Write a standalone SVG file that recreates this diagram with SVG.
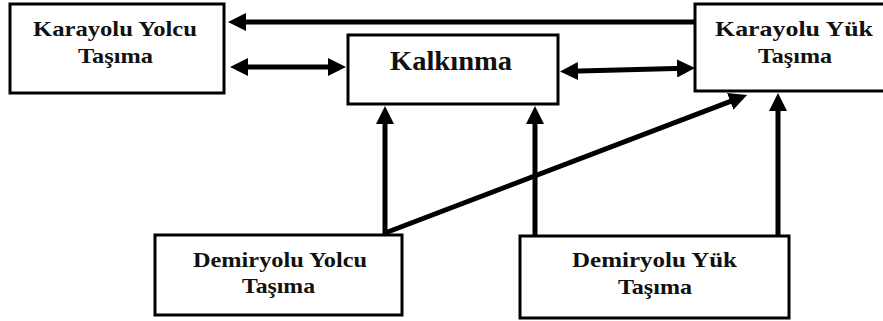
<svg xmlns="http://www.w3.org/2000/svg" width="883" height="321" viewBox="0 0 883 321">
<style>
.box{fill:#fff;stroke:#000;stroke-width:3}
.lbl{font-family:"Liberation Serif","Times New Roman",serif;font-weight:bold;font-size:22px;fill:#111}
.big{font-size:28px}
.c{fill:none;stroke:#000;stroke-width:5}
</style>
<defs>
<marker id="ah" markerUnits="userSpaceOnUse" markerWidth="18" markerHeight="18" refX="8" refY="9" orient="auto-start-reverse" viewBox="0 0 18 18">
<path d="M0,0 L18,9 L0,18 z" fill="#000"/>
</marker>
</defs>
<g id="connectors">
<line class="c" x1="696" y1="22" x2="238" y2="22" marker-end="url(#ah)"/>
<line class="c" x1="240" y1="67" x2="336" y2="67" marker-start="url(#ah)" marker-end="url(#ah)"/>
<line class="c" x1="570" y1="71.3" x2="685" y2="68.3" marker-start="url(#ah)" marker-end="url(#ah)"/>
<line class="c" x1="385" y1="235" x2="385" y2="116" marker-end="url(#ah)"/>
<line class="c" x1="535" y1="236" x2="535" y2="116" marker-end="url(#ah)"/>
<line class="c" x1="778" y1="236" x2="778" y2="103" marker-end="url(#ah)"/>
<line class="c" x1="385" y1="233" x2="737.7" y2="98.6" marker-end="url(#ah)"/>
</g>
<g id="karayolu-yolcu">
<rect class="box" x="10" y="4" width="214" height="89"/>
<text class="lbl" x="33" y="36" textLength="164" lengthAdjust="spacingAndGlyphs">Karayolu Yolcu</text>
<text class="lbl" x="78" y="63" textLength="75" lengthAdjust="spacingAndGlyphs">Taşıma</text>
</g>
<g id="kalkinma">
<rect class="box" x="348" y="35" width="210" height="69"/>
<text class="lbl big" x="390" y="70" textLength="122" lengthAdjust="spacingAndGlyphs">Kalkınma</text>
</g>
<g id="karayolu-yuk">
<rect class="box" x="695" y="4" width="200" height="87"/>
<text class="lbl" x="715" y="36" textLength="158" lengthAdjust="spacingAndGlyphs">Karayolu Yük</text>
<text class="lbl" x="758" y="63" textLength="74" lengthAdjust="spacingAndGlyphs">Taşıma</text>
</g>
<g id="demiryolu-yolcu">
<rect class="box" x="155" y="235" width="247" height="80"/>
<text class="lbl" x="193" y="267" textLength="174" lengthAdjust="spacingAndGlyphs">Demiryolu Yolcu</text>
<text class="lbl" x="242" y="293" textLength="73" lengthAdjust="spacingAndGlyphs">Taşıma</text>
</g>
<g id="demiryolu-yuk">
<rect class="box" x="520" y="236" width="269" height="82"/>
<text class="lbl" x="572" y="267" textLength="165" lengthAdjust="spacingAndGlyphs">Demiryolu Yük</text>
<text class="lbl" x="618" y="294" textLength="74" lengthAdjust="spacingAndGlyphs">Taşıma</text>
</g>
</svg>
